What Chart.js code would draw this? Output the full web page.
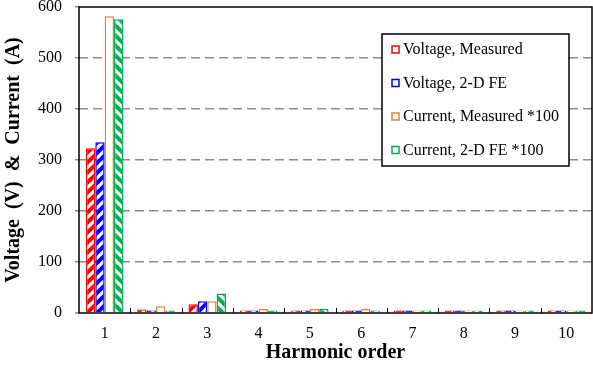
<!DOCTYPE html>
<html>
<head>
<meta charset="utf-8">
<script src="https://cdn.jsdelivr.net/npm/chart.js@4.4.1/dist/chart.umd.min.js"></script>
<style>
  html, body { margin: 0; padding: 0; background: #fff; }
  #wrap { width: 593px; height: 367px; position: relative; }
</style>
</head>
<body>
<div id="wrap"><canvas id="harmonics"></canvas></div>
<script>
let harmonics = ["1", "2", "3", "4", "5", "6", "7", "8", "9", "10"]
let voltageMeasured = [323, 7, 17, 5, 5, 5, 5, 5, 5, 5]
let voltageFE = [335, 5, 23, 5, 5, 5, 5, 5, 5, 5]
let currentMeasured = [582, 13, 23, 8, 8, 8, 5, 5, 5, 5]
let currentFE = [576, 5, 38, 5, 8, 5, 5, 5, 5, 5]
let seriesNames = ["Voltage, Measured", "Voltage, 2-D FE", "Current, Measured *100", "Current, 2-D FE *100"]
let seriesColors = ["#ff0000", "#0000ff", "#ed7d31", "#00b050"]

const SERIF = "'Liberation Serif', 'Times New Roman', serif"

// hatch fills for the bars
function hatch(color, dir) {
    let c = document.createElement('canvas')
    c.width = 10; c.height = 10
    let g = c.getContext('2d')
    g.fillStyle = '#fff'
    g.fillRect(0, 0, 10, 10)
    g.strokeStyle = color
    g.lineCap = 'square'
    if (dir == 'v') {
        g.lineWidth = 1
        g.globalAlpha = 0.35
        g.beginPath(); g.moveTo(5, 0); g.lineTo(5, 10); g.stroke()
    } else {
        g.lineWidth = 4
        g.beginPath()
        if (dir == '/') {
            g.moveTo(-5, 5); g.lineTo(5, -5)
            g.moveTo(0, 10); g.lineTo(10, 0)
            g.moveTo(5, 15); g.lineTo(15, 5)
        } else {
            g.moveTo(-5, 5); g.lineTo(5, 15)
            g.moveTo(0, 0); g.lineTo(10, 10)
            g.moveTo(5, -5); g.lineTo(15, 5)
        }
        g.stroke()
    }
    return g.createPattern(c, 'repeat')
}

let fills = [
    hatch(seriesColors[0], '/'),
    hatch(seriesColors[1], '/'),
    hatch(seriesColors[2], 'v'),
    hatch(seriesColors[3], '\\')
]

let values = [voltageMeasured, voltageFE, currentMeasured, currentFE]

// box around the plot, inward ticks between harmonics, and the boxed legend
const framePlugin = {
    id: 'frame',
    afterDraw(chart) {
        let ctx = chart.ctx
        let a = chart.chartArea
        let x = chart.scales.x
        ctx.save()
        ctx.strokeStyle = '#000'
        ctx.lineWidth = 1.5
        ctx.strokeRect(a.left, a.top, a.right - a.left, a.bottom - a.top)
        ctx.lineWidth = 1
        for (let i = 1; i < harmonics.length; i++) {
            let px = (x.getPixelForValue(i - 1) + x.getPixelForValue(i)) / 2
            ctx.beginPath()
            ctx.moveTo(Math.round(px) + 0.5, a.bottom)
            ctx.lineTo(Math.round(px) + 0.5, a.bottom - 5)
            ctx.stroke()
        }

        // legend
        let lx = 382, ly = 34, lw = 187, lh = 132
        ctx.fillStyle = '#fff'
        ctx.fillRect(lx, ly, lw, lh)
        ctx.lineWidth = 1.5
        ctx.strokeStyle = '#000'
        ctx.strokeRect(lx, ly, lw, lh)
        ctx.font = `16px ${SERIF}`
        ctx.textBaseline = 'middle'
        seriesNames.forEach(function (name, i) {
            let yy = 50 + i * 33.5
            ctx.lineWidth = 1.5
            ctx.strokeStyle = seriesColors[i]
            ctx.strokeRect(392, yy - 4, 7, 7)
            ctx.fillStyle = '#000'
            ctx.fillText(name, 403, yy)
        })
        ctx.restore()
    }
}

new Chart(document.getElementById('harmonics'), {
    type: 'bar',
    data: {
        labels: harmonics,
        datasets: seriesNames.map(function (name, i) {
            return {
                label: name,
                data: values[i],
                backgroundColor: fills[i],
                borderColor: seriesColors[i],
                borderWidth: 1.5,
                categoryPercentage: 0.73,
                barPercentage: 1.0
            }
        })
    },
    options: {
        responsive: true,
        maintainAspectRatio: false,
        animation: false,
        layout: { padding: { top: 7, right: 1, left: 0, bottom: 0 } },
        plugins: {
            legend: { display: false },
            tooltip: { enabled: false }
        },
        scales: {
            x: {
                afterFit: function (s) { s.height = 54 },
                grid: { display: false },
                border: { display: false },
                ticks: { color: '#000', font: { family: SERIF, size: 16 }, padding: 3 },
                title: {
                    display: true,
                    text: 'Harmonic order',
                    color: '#000',
                    font: { family: SERIF, size: 20, weight: 'bold' },
                    padding: { top: 0, bottom: 2 }
                }
            },
            y: {
                min: 0,
                max: 600,
                afterFit: function (s) {
                    s.width = 79
                    s.paddingTop = 0
                    s.paddingBottom = 0
                },
                border: { display: false, dash: [9, 5] },
                grid: {
                    color: function (c) { return (c.tick.value == 0 || c.tick.value == 600) ? 'rgba(0,0,0,0)' : '#8c8c8c' },
                    lineWidth: 1.5,
                    tickColor: '#8c8c8c',
                    tickLength: 4,
                    tickBorderDash: [0, 0]
                },
                ticks: { stepSize: 100, color: '#000', font: { family: SERIF, size: 16 }, padding: 13 },
                title: {
                    display: true,
                    text: 'Voltage  (V)  &  Current  (A)',
                    color: '#000',
                    font: { family: SERIF, size: 20, weight: 'bold' },
                    padding: { top: 2, bottom: 0 }
                }
            }
        }
    },
    plugins: [framePlugin]
})
</script>
</body>
</html>
